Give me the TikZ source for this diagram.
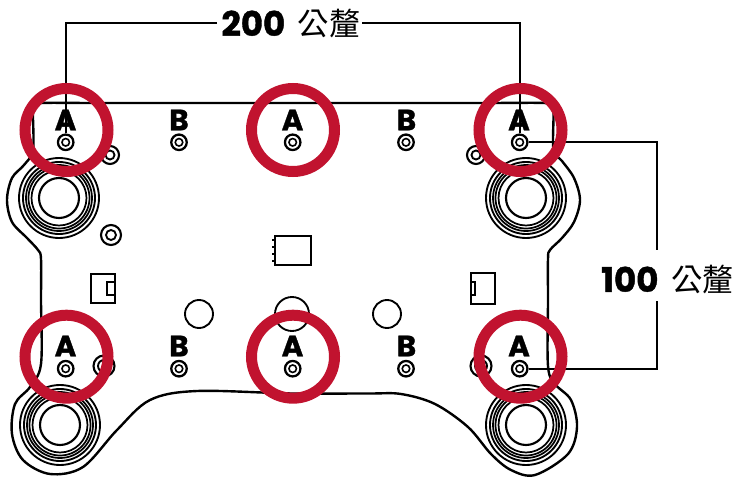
\documentclass[tikz,border=0pt]{standalone}
\usepackage{fontspec}
\setmainfont{Poppins}
\newfontfamily\heavyfont[UprightFont={* Bold},FakeBold=1.2]{Poppins}
\newfontfamily\cjkfont{Noto Sans CJK TC}
\definecolor{markred}{HTML}{C1132F}
\tikzset{
  px/.style={x=0.75pt,y=-0.75pt},
  hole/.style={circle,draw=black,line width=1.7pt,minimum size=15.5*0.75pt,inner sep=0pt,fill=white},
  holein/.style={circle,draw=black,line width=1.2pt,minimum size=7.5*0.75pt,inner sep=0pt},
  boardline/.style={draw=black,line width=1.8pt,line join=round},
  dimline/.style={draw=black,line width=1.7pt},
  tag/.style={font=\heavyfont\fontsize{22}{22}\selectfont,inner sep=0pt,text=black},
  dimlabel/.style={inner sep=0pt,text=black},
  redring/.style={circle,draw=markred,line width=8.25pt,minimum size=83*0.75pt,inner sep=0pt},
  free/.style={circle,draw=black,line width=1.4pt,inner sep=0pt},
  partbox/.style={draw=black,line width=1.6pt},
}
\newcommand{\dimtext}[2]{{\heavyfont\fontsize{25.5}{26}\selectfont #1}\hspace{9.5pt}{\cjkfont\fontsize{23.5}{24}\selectfont #2}}
\newcommand{\bigmount}[3]{%
  \foreach \r/\w in {40/1.4,36/1.4,33/1.3,30.5/1.3,27.5/1.3,20/1.6}{
    \draw[line width=\w pt] (#2,#3) circle[radius=\r];
  }
  \node[circle,inner sep=0pt,minimum size=0pt] (#1) at (#2,#3) {};
}
\begin{document}
\begin{tikzpicture}[px]
\useasboundingbox (0,0) rectangle (735,477);
% board outline
\draw[boardline] plot[smooth cycle,tension=0.55] coordinates {
 (33,150) (33,112) (35.5,106) (42,103) (100,103) (292,103) (480,103) (544,103) (551,106) (553.5,112) (553.5,150)
 (562,161) (574,178) (580,200) (574,222) (562,238) (550,250) (548,259) (548,300) (548,366)
 (555,384) (571,400) (577,427) (568,454) (535,475) (511,470) (491,454) (468,427) (435,404) (401,394) (368,393.5)
 (292,393.5) (197,391) (150,400) (117,430) (83,467) (50,474) (23,460) (12,434) (15,404) (30,387) (41,364)
 (41,300) (41,259) (38,250) (27,238) (12,222) (7,200) (12,178) (24,165)
};
% large mounts
\bigmount{ma}{59}{198}
\bigmount{mb}{526}{198}
\bigmount{mc}{60}{425}
\bigmount{md}{526}{425}
% loose holes
\foreach \n/\x/\y/\ro/\ri in {pa/110/155/18/9,pb/476/155/18/9,pc/111/235/20/10,pd/104/366/21/12,pe/481/366/21/12}{
  \node[free,minimum size=\ro*0.75pt,line width=1.6pt] (\n) at (\x,\y) {};
  \node[free,minimum size=\ri*0.75pt] (\n i) at (\x,\y) {};
}
\node[free,minimum size=28*0.75pt] (ca) at (199,314) {};
\node[free,minimum size=34*0.75pt] (cb) at (292,314) {};
\node[free,minimum size=28*0.75pt] (cc) at (387,314) {};
% parts
\draw[partbox] (91,274) rectangle (115,303);
\draw[partbox] (107,282) rectangle (115,295);
\draw[partbox] (471,273) rectangle (495,304);
\draw[partbox] (471,282) rectangle (475,295);
\draw[partbox] (275,236) rectangle (311,265);
\foreach \y in {240,247,254,261}{\draw[line width=1.5pt] (272,\y) -- (275,\y);}
% holes
\foreach \n/\x/\y in {ta/65.7/142.3,tb/179/142.3,tc/292.7/142.3,td/406/142.3,te/519.7/142.3,
                      ba/65.7/368.7,bb/179/368.7,bc/292.7/368.7,bd/406/368.7,be/519.7/368.7}{
  \node[hole] (\n) at (\x,\y) {};
  \node[holein] (\n i) at (\x,\y) {};
}
% dimension labels and connectors
\node[dimlabel,anchor=center] (d200) at (291,24) {\dimtext{200}{公釐}};
\node[dimlabel,anchor=center] (d100) at (667.5,280) {\dimtext{100}{公釐}};
\coordinate (d2l) at (217,23);
\coordinate (d2r) at (362,23);
\coordinate (d1u) at (657,250);
\coordinate (d1l) at (657,301);
\draw[dimline] (d2l) -| (ta.north);
\draw[dimline] (d2r) -| (te.north);
\draw[dimline] (te.east) -| (d1u);
\draw[dimline] (be.east) -| (d1l);
% letters
\foreach \n/\t/\x/\y in {la/A/65.5/120,lb/B/179/120,lc/A/292.5/120,ld/B/406.5/120,le/A/519/120,
                         lf/A/65.5/346,lg/B/179/346,lh/A/292.5/346,li/B/406.5/346,lj/A/519/346}{
  \node[tag] (\n) at (\x,\y) {\t};
}
% red rings
\foreach \n/\x/\y in {ra/66.5/130,rb/293/130,rc/520.5/130,rd/66.5/356.7,re/293/356.7,rf/520.5/356.7}{
  \node[redring] (\n) at (\x,\y) {};
}
\end{tikzpicture}
\end{document}
